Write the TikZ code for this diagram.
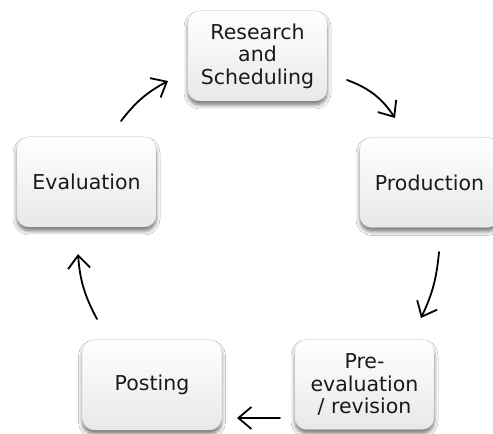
\documentclass[tikz,border=0pt]{standalone}
\usepackage{fontspec}
\setmainfont{DejaVu Sans}
\usetikzlibrary{arrows.meta,shadows.blur}
\definecolor{txt}{HTML}{1a1a1a}
\begin{document}
\begin{tikzpicture}[x=1pt,y=1pt,
  box/.style={rounded corners=12pt, minimum width=139pt, minimum height=90pt,
    top color=white, bottom color=gray!18, draw=gray!20, line width=0.4pt,
    blur shadow={shadow xshift=0pt, shadow yshift=-4pt, shadow opacity=55,
      shadow blur steps=6, shadow blur radius=4pt},
    align=center, text=txt, font=\fontsize{20.5}{22.5}\selectfont, inner sep=0pt},
  flow/.style={line width=1.8pt, -{Straight Barb[length=13pt,width=22pt]},
    line cap=round}]
\useasboundingbox (0,0) rectangle (493,434);
\clip (0,0) rectangle (493,434);
\fill[white] (0,0) rectangle (493,434);

\node[box] (rs) at (257.5,378) {Research\\and\\Scheduling};
\node[box] (pr) at (429.5,251.5) {Production};
\node[box] (pe) at (364.5,49.5) {Pre-\\evaluation\\/ revision};
\node[box] (po) at (152,49) {Posting};
\node[box] (ev) at (86.5,252) {Evaluation};

\coordinate (a1s) at (121,313); \coordinate (a1e) at (168,353);
\coordinate (a2s) at (347,354); \coordinate (a2e) at (395,316);
\coordinate (a3s) at (439,182); \coordinate (a3e) at (421,116);
\coordinate (a4s) at (280,16);  \coordinate (a4e) at (237,16);
\coordinate (a5s) at (97,115);  \coordinate (a5e) at (78,180);

\draw[flow] (a1s) to[bend left=12] (a1e);
\draw[flow] (a2s) to[bend left=18] (a2e);
\draw[flow] (a3s) to[bend left=10] (a3e);
\draw[flow] (a4s) -- (a4e);
\draw[flow] (a5s) to[bend left=12] (a5e);
\end{tikzpicture}
\end{document}
